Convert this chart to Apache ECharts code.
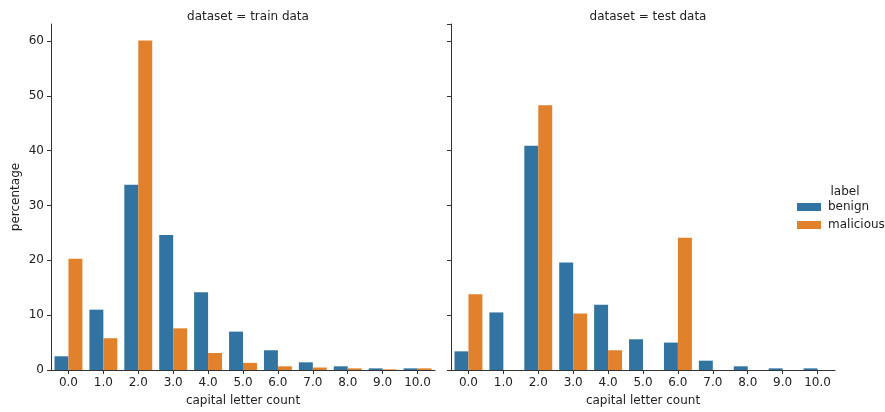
<!DOCTYPE html>
<html><head><meta charset="utf-8">
<script src="https://cdn.jsdelivr.net/npm/echarts@6/dist/echarts.min.js"></script>
<style>html,body{margin:0;padding:0;background:#fff}#c{width:885px;height:412px}</style>
</head><body><div id="c"></div>
<script>
const categories = ['0.0','1.0','2.0','3.0','4.0','5.0','6.0','7.0','8.0','9.0','10.0'];
const trainBenign = [2.5, 11.0, 33.8, 24.6, 14.2, 7.0, 3.6, 1.4, 0.67, 0.3, 0.3];
const trainMalicious = [20.3, 5.8, 60.1, 7.6, 3.1, 1.3, 0.67, 0.45, 0.3, 0.12, 0.3];
const testBenign = [3.4, 10.5, 40.9, 19.6, 11.9, 5.6, 5.0, 1.7, 0.67, 0.3, 0.3];
const testMalicious = [13.8, 0, 48.3, 10.3, 3.6, 0, 24.1, 0, 0, 0, 0];
const yTicks = [0, 10, 20, 30, 40, 50, 60];
const BLUE = '#3274a1', ORANGE = '#e1812c';
const FONT = 'DejaVu Sans';
const TXT = '#222';
const FS = 12;

const chart = echarts.init(document.getElementById('c'), null, {renderer: 'canvas'});
function xAx(i) {
  return {
    type: 'category', gridIndex: i, data: categories,
    name: 'capital letter count', nameLocation: 'middle', nameGap: 25,
    nameTextStyle: {fontFamily: FONT, fontSize: FS, color: TXT},
    axisLine: {lineStyle: {color: '#333', width: 1}},
    axisTick: {show: true, alignWithLabel: true, length: 4, lineStyle: {color: '#333'}},
    axisLabel: {fontFamily: FONT, fontSize: FS, color: TXT, margin: 7, interval: 0},
    splitLine: {show: false}
  };
}
function yAx(i) {
  return {
    type: 'value', gridIndex: i, min: 0, max: 63.1, interval: 10,
    name: i === 0 ? 'percentage' : '', nameLocation: 'middle', nameGap: 29,
    nameTextStyle: {fontFamily: FONT, fontSize: FS, color: TXT},
    axisLine: {show: true, lineStyle: {color: '#333', width: 1}},
    axisTick: {show: true, length: 4, lineStyle: {color: '#333'}},
    axisLabel: {show: i === 0, fontFamily: FONT, fontSize: FS, color: TXT, margin: 7,
      showMaxLabel: false,
      formatter: v => (yTicks.indexOf(v) >= 0 ? String(v) : '')},
    splitLine: {show: false}
  };
}
function bar(name, data, color, idx) {
  return {
    name: name, type: 'bar', xAxisIndex: idx, yAxisIndex: idx, data: data,
    barGap: '0%', barCategoryGap: '20%',
    itemStyle: {color: color}, emphasis: {disabled: true}
  };
}
chart.setOption({
  animation: false,
  backgroundColor: '#fff',
  textStyle: {fontFamily: FONT},
  title: [
    {text: 'dataset = train data', left: 243, top: 6, textAlign: 'center',
      textStyle: {fontFamily: FONT, fontSize: FS, fontWeight: 'normal', color: TXT}},
    {text: 'dataset = test data', left: 643, top: 6, textAlign: 'center',
      textStyle: {fontFamily: FONT, fontSize: FS, fontWeight: 'normal', color: TXT}},
    {text: 'label', left: 840, top: 181, textAlign: 'center',
      textStyle: {fontFamily: FONT, fontSize: FS, fontWeight: 'normal', color: TXT}}
  ],
  legend: {
    left: 792, top: 199, orient: 'vertical', itemWidth: 24, itemHeight: 8, itemGap: 6,
    icon: 'rect', padding: [2, 5, 2, 5],
    textStyle: {fontFamily: FONT, fontSize: FS, color: TXT, padding: [0, 0, 0, 2]},
    data: ['benign', 'malicious']
  },
  grid: [
    {left: 51, top: 24, width: 384, height: 347},
    {left: 451, top: 24, width: 384, height: 347}
  ],
  xAxis: [xAx(0), xAx(1)],
  yAxis: [yAx(0), yAx(1)],
  series: [
    bar('benign', trainBenign, BLUE, 0),
    bar('malicious', trainMalicious, ORANGE, 0),
    bar('benign', testBenign, BLUE, 1),
    bar('malicious', testMalicious, ORANGE, 1)
  ]
});
</script></body></html>
